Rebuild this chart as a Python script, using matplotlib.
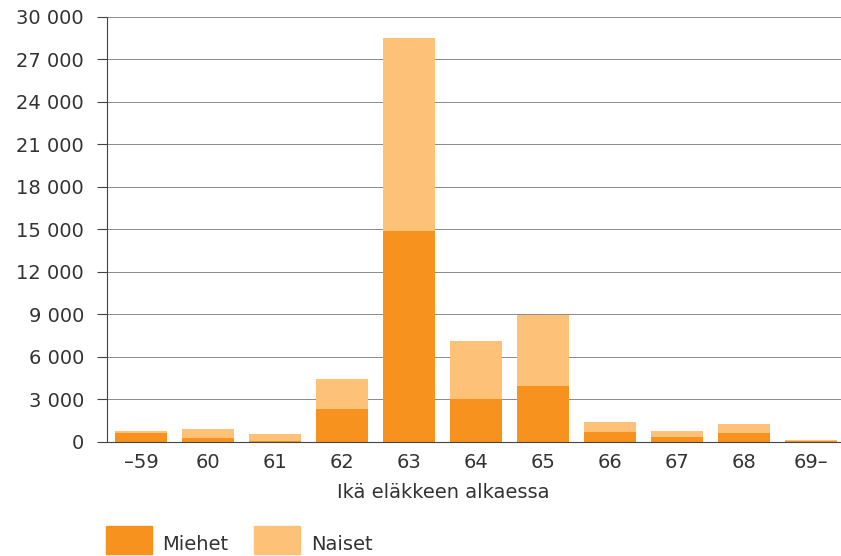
import matplotlib.pyplot as plt
import numpy as np
from matplotlib.patches import Rectangle
from matplotlib.ticker import FuncFormatter

plt.rcParams['font.family'] = ['DejaVu Sans']

categories = ['–59', '60', '61', '62', '63', '64', '65', '66', '67', '68', '69–']
miehet = [620, 280, 40, 2300, 14900, 3000, 3950, 700, 350, 630, 60]
naiset = [140, 620, 510, 2100, 13600, 4100, 5000, 700, 410, 620, 60]
yticks = np.arange(0, 30001, 3000)

c_men = '#f7921e'
c_women = '#fdc178'
text_col = '#333333'
W, H = 841, 556

fig = plt.figure(figsize=(8.41, 5.56), dpi=100)
ax = fig.add_axes([107 / W, 1 - 441.5 / H, 1 - 107 / W, (441.5 - 16.7) / H])

x = np.arange(len(categories))
ax.bar(x, miehet, width=0.77, color=c_men, zorder=3)
ax.bar(x, naiset, width=0.77, bottom=miehet, color=c_women, zorder=3)

ax.set_xlim(-0.507, 10.45)
ax.set_ylim(0, 30000)
ax.set_yticks(yticks)
ax.yaxis.set_major_formatter(FuncFormatter(lambda v, p: f'{int(v):,}'.replace(',', ' ')))
ax.set_xticks(x)
ax.set_xticklabels(categories)

ax.grid(axis='y', color='#777777', linewidth=0.6, zorder=0)
for s in ['top', 'right']:
    ax.spines[s].set_visible(False)
ax.spines['left'].set_color('#444444')
ax.spines['bottom'].set_color('#444444')
ax.spines['bottom'].set_zorder(4)
ax.tick_params(axis='y', length=7.5, width=0.8, color='#444444', labelsize=14,
               labelcolor=text_col, pad=9)
ax.tick_params(axis='x', length=0, labelsize=14, labelcolor=text_col, pad=8)

fig.text(443 / W, 1 - 493 / H, 'Ikä eläkkeen alkaessa', ha='center', va='center',
         fontsize=14, color=text_col)

# legend drawn by hand so the boxes sit where the reference has them
for lx, tx, col, lab in [(106, 162, c_men, 'Miehet'), (254, 311, c_women, 'Naiset')]:
    fig.add_artist(Rectangle((lx / W, 1 - 554 / H), 46 / W, 28 / H,
                             transform=fig.transFigure, color=col))
    fig.text(tx / W, 1 - 544 / H, lab, ha='left', va='center', fontsize=14, color=text_col)

fig.savefig('out.png', dpi=100)
